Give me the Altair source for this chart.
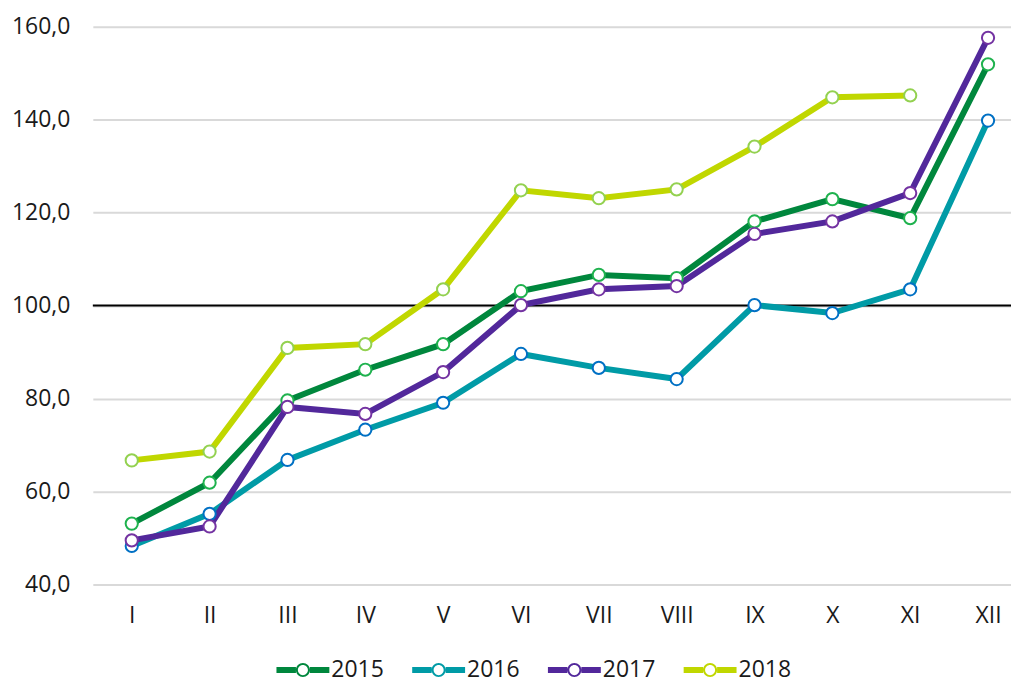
import json
import altair as alt
import pandas as pd

months = ["I", "II", "III", "IV", "V", "VI", "VII", "VIII", "IX", "X", "XI", "XII"]
years = ["2015", "2016", "2017", "2018"]
v2015 = [53.1, 61.9, 79.6, 86.2, 91.7, 103.1, 106.6, 105.9, 118.1, 122.9, 118.8, 151.9]
v2016 = [48.3, 55.2, 66.8, 73.3, 79.1, 89.6, 86.6, 84.2, 100.1, 98.4, 103.5, 139.8]
v2017 = [49.5, 52.5, 78.2, 76.7, 85.7, 100.1, 103.5, 104.2, 115.4, 118.1, 124.2, 157.6]
v2018 = [66.7, 68.6, 90.9, 91.7, 103.5, 124.8, 123.1, 125.0, 134.2, 144.8, 145.2, None]
series = [v2015, v2016, v2017, v2018]
line_colors = ["#00873d", "#009ba6", "#52289b", "#c0d700"]
ring_colors = ["#1fb24e", "#0070c4", "#7433a2", "#93d150"]
y_ticks = [40, 60, 80, 100, 120, 140, 160]
ref_value = [100]

rows = []
for yr, vals in zip(years, series):
    for i, (m, v) in enumerate(zip(months, vals)):
        if v is not None:
            rows.append({"year": yr, "month": m, "idx": i + 1, "value": v})
df = pd.DataFrame(rows)
legend_df = pd.DataFrame({"legend_year": years})

FONT = "Open Sans"
FS = 23

x_enc = alt.X(
    "idx:Q",
    scale=alt.Scale(domain=[0.5, 12.295], nice=False, zero=False),
    axis=alt.Axis(
        values=list(range(1, len(months) + 1)),
        labelExpr=json.dumps(months) + "[datum.value - 1]",
        grid=False, domain=False, ticks=False, title=None,
        labelFontSize=FS, labelFont=FONT, labelColor="#1a1a1a", labelPadding=20,
    ),
)
y_enc = alt.Y(
    "value:Q",
    scale=alt.Scale(domain=[40, 160], nice=False, zero=False),
    axis=alt.Axis(
        values=y_ticks,
        labelExpr="replace(format(datum.value, '.1f'), '.', ',')",
        grid=True, gridColor="#d9d9d9", gridWidth=2,
        domain=False, ticks=False, title=None,
        labelFontSize=FS, labelFont=FONT, labelColor="#1a1a1a", labelPadding=23,
    ),
)

rule = alt.Chart(pd.DataFrame({"value": ref_value})).mark_rule(
    color="black", strokeWidth=2
).encode(y=alt.Y("value:Q"))

lines = alt.Chart(df).mark_line(strokeWidth=6).encode(
    x=x_enc, y=y_enc,
    stroke=alt.Stroke("year:N", scale=alt.Scale(domain=years, range=line_colors), legend=None),
)

points = alt.Chart(df).mark_point(
    filled=False, fill="white", shape="circle", size=150, strokeWidth=2, opacity=1
).encode(
    x=x_enc, y=y_enc,
    color=alt.Color("year:N", scale=alt.Scale(domain=years, range=ring_colors), legend=None),
)

legend_path = (
    "M-1,-0.113H-0.264V0.113H-1Z"
    "M0.264,-0.113H1V0.113H0.264Z"
    "M0.264,0A0.264,0.264,0,1,1,-0.264,0A0.264,0.264,0,1,1,0.264,0Z"
    "M0.19,0A0.19,0.19,0,1,0,-0.19,0A0.19,0.19,0,1,0,0.19,0Z"
)

legend_layer = alt.Chart(legend_df).mark_point(
    filled=True, shape="circle", opacity=0
).encode(
    fill=alt.Fill(
        "legend_year:N", scale=alt.Scale(range=line_colors),
        legend=alt.Legend(
            orient="none", legendX=184, legendY=618, direction="horizontal",
            title=None, symbolType=legend_path, symbolSize=2809,
            symbolStrokeWidth=0, symbolOpacity=1,
            labelFontSize=FS, labelFont=FONT, labelColor="#1a1a1a",
            labelOffset=2, columnPadding=28, padding=0,
        ),
    ),
)

chart = alt.layer(rule, lines, points, legend_layer).properties(
    width=920, height=559,
    autosize=alt.AutoSizeParams(type="none"),
    padding={"left": 85, "top": 18, "right": 0, "bottom": 99},
).configure_view(stroke=None)

chart.save("out.html", embed_options={"renderer": "svg", "actions": False})
